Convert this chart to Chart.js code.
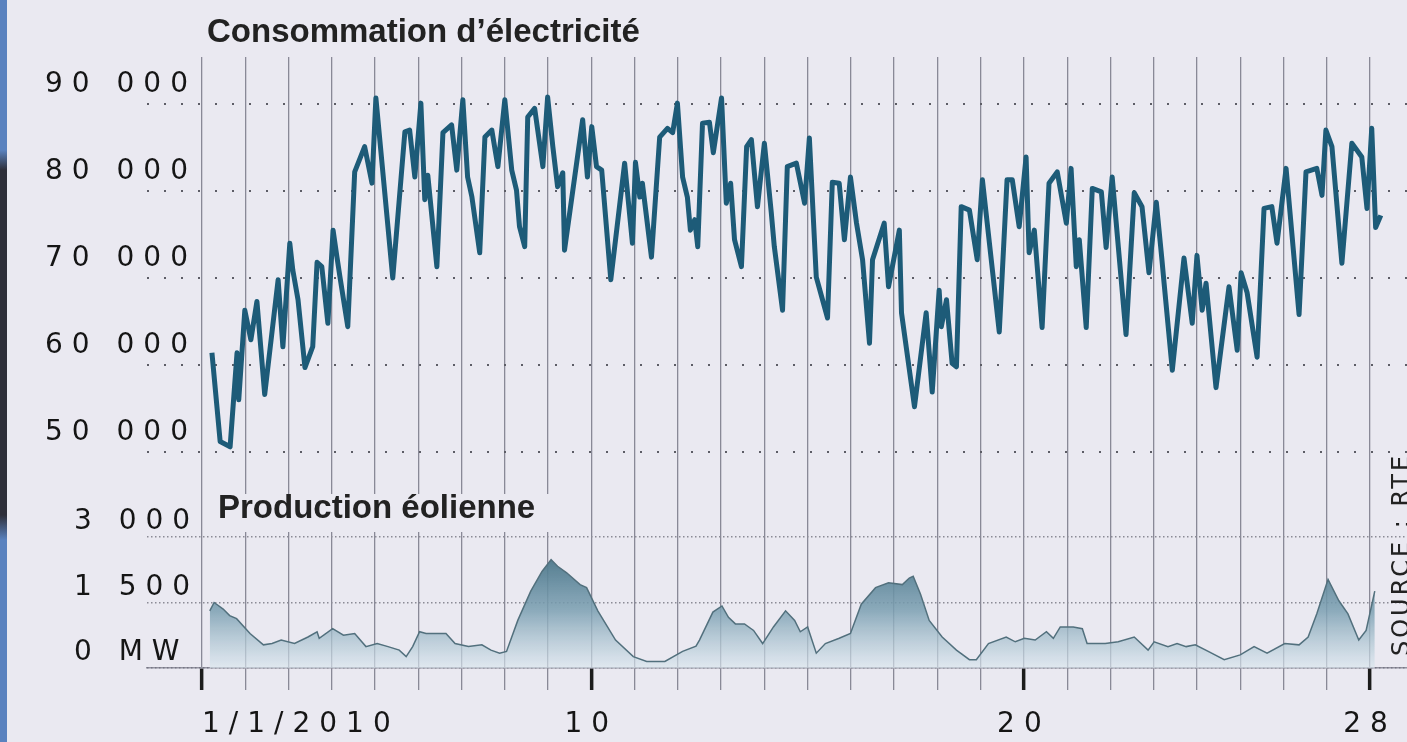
<!DOCTYPE html>
<html>
<head>
<meta charset="utf-8">
<script src="https://cdn.jsdelivr.net/npm/chart.js@4.4.1/dist/chart.umd.min.js"></script>
<style>
  html, body { margin: 0; padding: 0; background: #eae9f1; overflow: hidden; }
  #wrap { position: relative; width: 1407px; height: 742px; }
  canvas { position: absolute; left: 0; top: 0; }
  #strip { position: absolute; left: 0; top: 0; width: 7px; height: 742px;
    background: linear-gradient(#5a82bf 0, #5a82bf 150px, #2e2f3a 170px, #2e2f3a 515px, #5a82bf 540px, #5a82bf 100%); }
</style>
</head>
<body>
<div id="wrap">
  <canvas id="chart" width="1407" height="742"></canvas>
  <div id="strip"></div>
</div>
<script>
// January 2010, values (day of month, fractional)
const consDays = [
  1.23, 1.42, 1.65, 1.81, 1.85, 1.99, 2.13, 2.27, 2.45, 2.76,
  2.87, 3.03, 3.10, 3.22, 3.38, 3.56, 3.66, 3.77, 3.91, 4.03,
  4.12, 4.19, 4.37, 4.53, 4.76, 4.93, 5.02, 5.41, 5.69, 5.80,
  5.92, 6.06, 6.15, 6.22, 6.43, 6.57, 6.77, 6.89, 7.03, 7.14,
  7.24, 7.42, 7.54, 7.70, 7.84, 8.00, 8.16, 8.27, 8.34, 8.46,
  8.53, 8.69, 8.88, 8.99, 9.11, 9.22, 9.34, 9.38, 9.80, 9.91,
  10.01, 10.12, 10.24, 10.45, 10.77, 10.95, 11.02, 11.12, 11.18, 11.39,
  11.58, 11.76, 11.88, 11.99, 12.11, 12.22, 12.29, 12.39, 12.46, 12.57,
  12.73, 12.82, 13.01, 13.12, 13.22, 13.31, 13.47, 13.59, 13.70, 13.84,
  14.00, 14.16, 14.23, 14.42, 14.53, 14.74, 14.93, 15.04, 15.20, 15.46,
  15.57, 15.73, 15.85, 15.99, 16.13, 16.27, 16.43, 16.50, 16.77, 16.87,
  17.12, 17.17, 17.47, 17.74, 17.88, 18.04, 18.09, 18.21, 18.34, 18.44,
  18.55, 18.74, 18.92, 19.04, 19.43, 19.61, 19.73, 19.89, 20.05, 20.12,
  20.24, 20.42, 20.58, 20.77, 20.98, 21.09, 21.21, 21.28, 21.44, 21.58,
  21.79, 21.90, 22.04, 22.36, 22.55, 22.73, 22.89, 23.06, 23.19, 23.24,
  23.43, 23.70, 23.89, 24.00, 24.12, 24.21, 24.44, 24.74, 24.93, 25.02,
  25.16, 25.39, 25.55, 25.73, 25.85, 26.06, 26.36, 26.52, 26.77, 26.89,
  26.98, 27.12, 27.35, 27.58, 27.81, 27.93, 28.04, 28.13, 28.25
];
const consValues = [
  61400, 51200, 50600, 61400, 56000, 66300, 62900, 67300, 56600, 69800,
  62100, 74000, 70900, 67500, 59700, 62100, 71800, 71300, 64800, 75500,
  72400, 70100, 64400, 82200, 85100, 80900, 90700, 70000, 86800, 87000,
  81600, 90100, 79000, 81800, 71300, 86700, 87600, 82400, 90500, 81600,
  79300, 72900, 86200, 87000, 82800, 90500, 82400, 80100, 75900, 73600,
  88500, 89500, 82800, 90800, 85100, 80500, 82100, 73200, 88200, 81600,
  87400, 82800, 82400, 69800, 83200, 74000, 83300, 79300, 80900, 72400,
  86200, 87200, 86700, 90100, 81600, 79300, 75500, 76700, 73600, 87800,
  87900, 84400, 90700, 78600, 80900, 74400, 71300, 85100, 85900, 78200,
  85500, 77500, 73600, 66300, 82800, 83200, 78600, 86100, 70100, 65400,
  81000, 80900, 74400, 81600, 76300, 72100, 62500, 72100, 76300, 69000,
  75500, 66000, 55200, 66000, 56900, 68600, 64400, 67500, 60200, 59800,
  78200, 77800, 72100, 81300, 63800, 81300, 81300, 75900, 83900, 72900,
  75500, 64300, 80900, 82200, 76300, 82600, 71300, 74400, 64300, 80300,
  79900, 73500, 81600, 63500, 79800, 78200, 70600, 78700, 72100, 69400,
  59400, 72300, 64800, 72600, 66300, 69400, 57400, 69000, 61700, 70600,
  68300, 60900, 78000, 78200, 74000, 82600, 65800, 82200, 82600, 79500,
  87000, 85100, 71700, 85500, 83900, 78000, 87200, 75800, 77200
];
const windDays = [
  1.18, 1.28, 1.49, 1.64, 1.80, 2.11, 2.42, 2.62, 2.83, 3.14,
  3.45, 3.66, 3.71, 4.02, 4.27, 4.53, 4.79, 5.05, 5.30, 5.56,
  5.72, 5.87, 6.03, 6.18, 6.64, 6.85, 7.16, 7.47, 7.68, 7.88,
  8.04, 8.30, 8.60, 8.86, 9.07, 9.22, 9.43, 9.74, 9.89, 10.15,
  10.56, 10.97, 11.28, 11.70, 12.11, 12.42, 12.50, 12.81, 13.02, 13.17,
  13.33, 13.54, 13.75, 13.96, 14.21, 14.49, 14.70, 14.83, 15.00, 15.20,
  15.41, 15.73, 15.99, 16.24, 16.57, 16.87, 17.19, 17.35, 17.44, 17.61,
  17.81, 18.11, 18.44, 18.74, 18.90, 19.18, 19.59, 19.80, 20.01, 20.26,
  20.52, 20.68, 20.84, 21.14, 21.35, 21.46, 21.88, 22.18, 22.55, 22.87,
  23.01, 23.33, 23.54, 23.75, 23.96, 24.26, 24.63, 25.00, 25.32, 25.62,
  26.03, 26.36, 26.57, 26.77, 27.03, 27.28, 27.49, 27.74, 27.91, 28.11
];
const windValues = [
  1310, 1500, 1350, 1200, 1130, 790, 530, 560, 640, 560,
  710, 830, 680, 900, 750, 790, 490, 560, 490, 410,
  260, 490, 830, 790, 790, 560, 490, 530, 410, 340,
  380, 1090, 1760, 2210, 2480, 2330, 2180, 1910, 1840, 1310,
  640, 260, 150, 150, 380, 500, 640, 1280, 1420, 1160,
  1010, 1010, 860, 560, 940, 1310, 1090, 830, 940, 340,
  560, 680, 790, 1460, 1840, 1950, 1910, 2060, 2100, 1690,
  1090, 710, 410, 190, 190, 560, 710, 600, 680, 640,
  830, 680, 940, 940, 900, 560, 560, 600, 710, 410,
  600, 490, 560, 490, 530, 380, 190, 300, 490, 340,
  560, 530, 710, 1240, 2030, 1540, 1240, 640, 860, 1760
];

const consTicks = [50000, 60000, 70000, 80000, 90000];
const consTickLabels = ['50 000', '60 000', '70 000', '80 000', '90 000'];
const windTicks = [0, 1500, 3000];
const windTickLabels = ['0 MW', '1 500', '3 000'];
const dayTicks = [1, 2, 3, 4, 5, 6, 7, 8, 9, 10, 11, 12, 13, 14,
  15, 16, 17, 18, 19, 20, 21, 22, 23, 24, 25, 26, 27, 28];
const labelDays = [1, 10, 20, 28];
const dayLabels = ['1/1/2010', '10', '20', '28'];

const BG = '#eae9f1';
const GRID = 'rgba(95,95,112,0.7)';
const TICK_FONT = { family: 'DejaVu Sans', size: 28 };
const X_MIN = -0.271, X_MAX = 28.855;

function windFill(context) {
  const chart = context.chart;
  const yw = chart.scales.yw;
  if (!chart.chartArea || !yw) return 'rgba(120,160,175,0.6)';
  const g = chart.ctx.createLinearGradient(0, yw.getPixelForValue(2600), 0, yw.getPixelForValue(0));
  g.addColorStop(0, 'rgba(70,114,134,0.95)');
  g.addColorStop(0.5, 'rgba(124,160,178,0.85)');
  g.addColorStop(1, 'rgba(218,230,238,0.65)');
  return g;
}

// titles, source and the letter spacing of the square tick font
const decor = {
  id: 'decor',
  beforeDraw(chart) {
    chart.ctx.letterSpacing = '9px';
  },
  afterDraw(chart) {
    const c = chart.ctx;
    c.save();
    c.letterSpacing = '0px';
    c.fillStyle = BG;
    c.fillRect(207, 494, 345, 38);
    c.fillStyle = '#222';
    c.font = 'bold 33px "Liberation Sans"';
    c.textBaseline = 'middle';
    c.textAlign = 'left';
    c.fillText('Consommation d\u2019électricité', 207, 33);
    c.fillText('Production éolienne', 218, 509);
    c.translate(1403, 656);
    c.rotate(-Math.PI / 2);
    c.font = '24px "DejaVu Sans"';
    c.letterSpacing = '3px';
    c.fillText('SOURCE : RTE', 0, 0);
    c.restore();
  }
};

new Chart(document.getElementById('chart'), {
  type: 'line',
  data: {
    datasets: [
      {
        label: 'Consommation',
        yAxisID: 'yc',
        data: consDays.map((d, i) => ({ x: d, y: consValues[i] })),
        borderColor: '#1d5b78',
        borderWidth: 5,
        borderJoinStyle: 'round',
        pointRadius: 0,
        tension: 0,
        fill: false
      },
      {
        label: 'Production éolienne',
        yAxisID: 'yw',
        data: windDays.map((d, i) => ({ x: d, y: windValues[i] })),
        borderColor: '#52707d',
        borderWidth: 1.5,
        pointRadius: 0,
        tension: 0,
        fill: 'origin',
        backgroundColor: windFill
      }
    ]
  },
  options: {
    responsive: false,
    animation: false,
    devicePixelRatio: 1,
    layout: { padding: { left: 74, top: 57, right: 0, bottom: 0 } },
    plugins: { legend: { display: false }, tooltip: { enabled: false } },
    scales: {
      x: {
        type: 'linear',
        min: X_MIN,
        max: X_MAX,
        afterBuildTicks: s => { s.ticks = dayTicks.map(v => ({ value: v })).concat([{ value: X_MAX }]); },
        afterFit: s => { s.height = 74; s.paddingLeft = 0; s.paddingRight = 0; },
        grid: {
          color: c => (c.tick && c.tick.value > 28 ? 'rgba(0,0,0,0)' : GRID),
          lineWidth: 1.3,
          tickLength: 22,
          tickColor: c => (labelDays.includes(c.tick.value) ? '#1c1c1c' : (c.tick.value > 28 ? 'rgba(0,0,0,0)' : GRID)),
          tickWidth: c => (labelDays.includes(c.tick.value) ? 3.5 : 1.3)
        },
        border: { display: true, color: 'rgba(110,110,125,0.7)', width: 1.5 },
        ticks: {
          autoSkip: false,
          maxRotation: 0,
          align: 'inner',
          padding: 18,
          color: '#151515',
          font: TICK_FONT,
          callback: v => { const i = labelDays.indexOf(v); return i >= 0 ? dayLabels[i] : ''; }
        }
      },
      yc: {
        type: 'linear',
        position: 'left',
        stack: 'panels',
        stackWeight: 443,
        weight: 2,
        min: 44483,
        max: 95402,
        afterBuildTicks: s => { s.ticks = consTicks.map(v => ({ value: v })); },
        afterFit: s => { s.width = 73; },
        grid: { color: '#5d5d66', lineWidth: 2, drawTicks: false },
        border: { display: false, dash: [2, 15] },
        ticks: {
          mirror: true,
          crossAlign: 'near',
          padding: -102,
          labelOffset: -19,
          color: '#151515',
          font: TICK_FONT,
          callback: v => consTickLabels[consTicks.indexOf(v)]
        }
      },
      yw: {
        type: 'linear',
        position: 'left',
        stack: 'panels',
        stackWeight: 168,
        weight: 1,
        min: 0,
        max: 3847,
        afterBuildTicks: s => { s.ticks = windTicks.map(v => ({ value: v })); },
        afterFit: s => { s.width = 73; },
        grid: { color: '#8b8b96', lineWidth: 1.5, drawTicks: false },
        border: { display: false, dash: [1.5, 2.5] },
        ticks: {
          mirror: true,
          crossAlign: 'near',
          padding: -73,
          labelOffset: -15,
          color: '#151515',
          font: TICK_FONT,
          callback: v => windTickLabels[windTicks.indexOf(v)]
        }
      }
    }
  },
  plugins: [decor]
});
</script>
</body>
</html>
